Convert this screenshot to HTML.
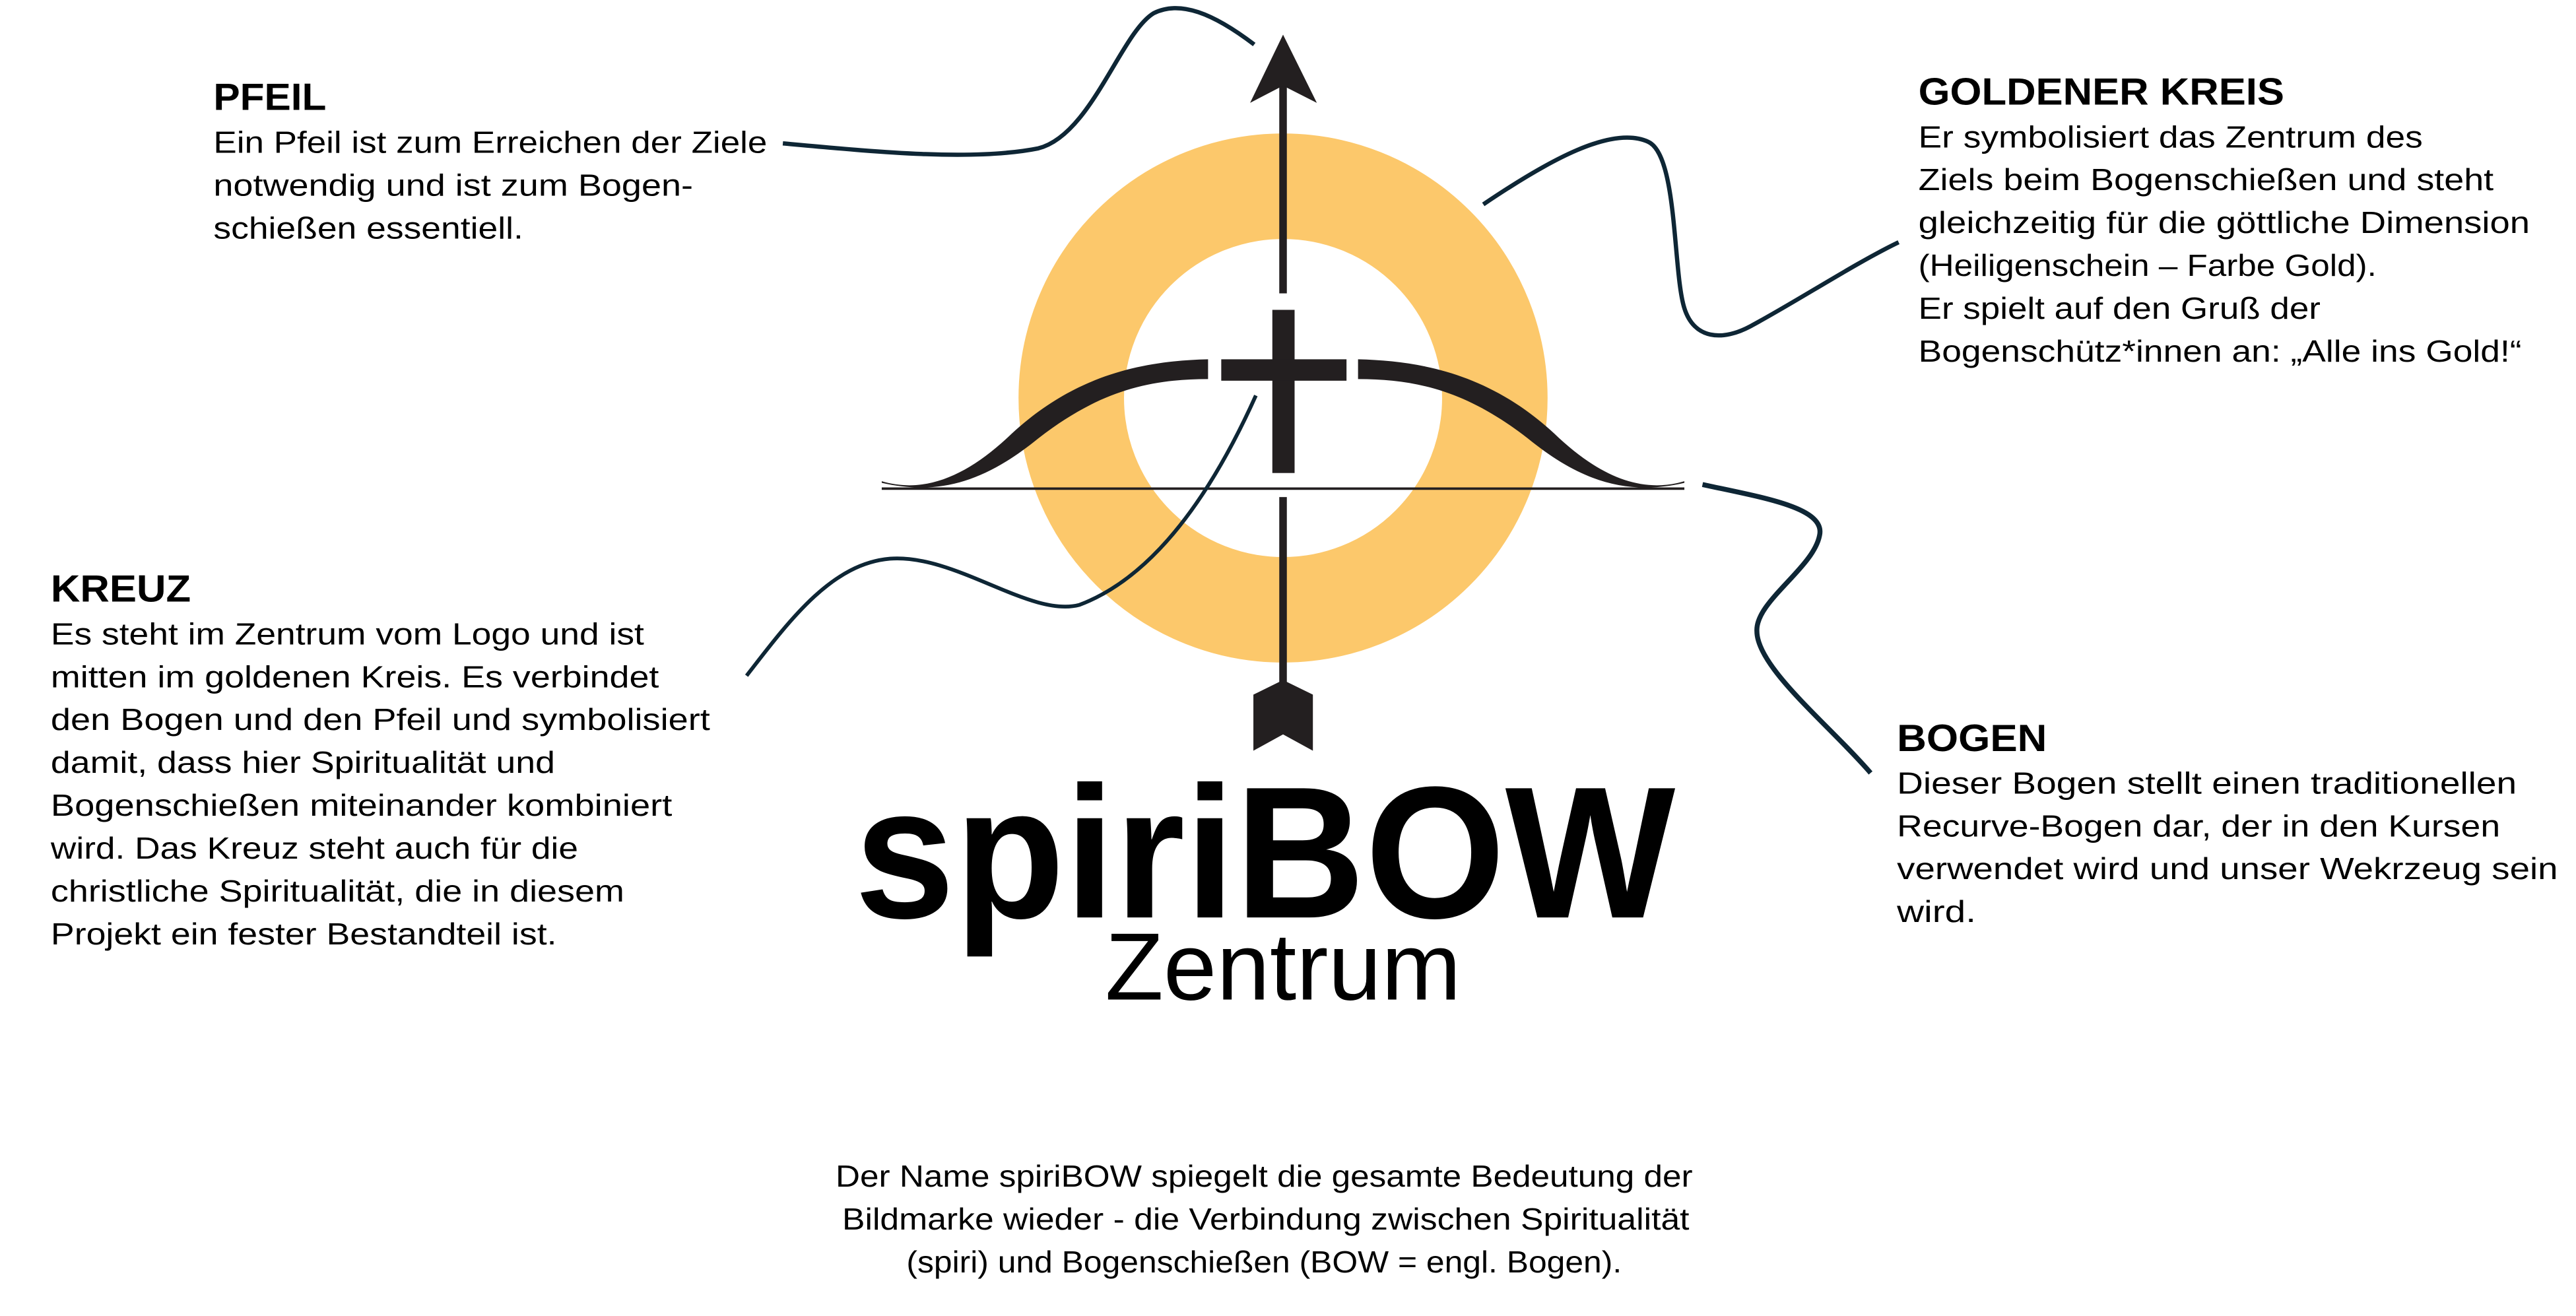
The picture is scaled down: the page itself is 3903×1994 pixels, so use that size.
<!DOCTYPE html>
<html><head><meta charset="utf-8"><style>
html,body{margin:0;padding:0;background:#fff;}
svg{display:block;}
text{font-family:"Liberation Sans",sans-serif;fill:#000;}
.h{font-weight:bold;font-size:23px;}
.b{font-size:18.5px;}
</style></head><body>
<svg width="3903" height="1994" viewBox="0 0 1563 798.5" xmlns="http://www.w3.org/2000/svg">
<rect width="1563" height="798.5" fill="#fff"/>
<circle cx="778.5" cy="241.5" r="128.5" fill="none" stroke="#fcc86b" stroke-width="64"/>
<line x1="535" y1="296.5" x2="1022" y2="296.5" stroke="#231f20" stroke-width="1.5"/>
<g fill="#231f20">
<path id="limb" d="M535,292 C562,300 588,288 614,263 C652,228 692,219 733,218 L733,230 C696,230 666,238 630,266 C598,292 570,301 535,293 Z"/>
<use href="#limb" transform="translate(1557,0) scale(-1,1)"/>
</g>
<rect x="776.2" y="50" width="4.6" height="128" fill="#231f20"/>
<rect x="776.2" y="301.6" width="4.6" height="113" fill="#231f20"/>
<polygon points="778.5,21 799,62.4 778.5,52 758.5,62.4" fill="#231f20"/>
<polygon points="778.5,412.6 796.6,421.5 796.6,455.5 778.5,445.6 760.5,455.5 760.5,421.5" fill="#231f20"/>
<rect x="772" y="188" width="13.5" height="99" fill="#231f20"/>
<rect x="741" y="218" width="76" height="13" fill="#231f20"/>
<g fill="none" stroke="#0e2635" stroke-width="2.6" stroke-linecap="butt">
<path d="M475,87 C530,92 590,98 630,90 C662,82 680,20 700,8 C716,0 736,8 761,27"/>
<path d="M900,124 C940,97 978,76 1000,86 C1018,94 1015,165 1022,187 C1028,206 1045,207 1062,198 C1090,183 1125,160 1152,147"/>
<path stroke-width="2.3" d="M453,410 C480,375 505,342 540,339 C580,336 625,375 655,367 C700,350 735,300 762,240"/>
<path stroke-width="3" d="M1033,294 C1070,302 1108,308 1104,325 C1100,345 1065,365 1066,383 C1066,405 1110,440 1135,469"/>
</g>
<text x="518.5" y="556.7" font-size="114" font-weight="bold" textLength="498" lengthAdjust="spacingAndGlyphs">spiriBOW</text>
<text x="670.5" y="606.5" font-size="58" textLength="216" lengthAdjust="spacingAndGlyphs">Zentrum</text>
<text class="h" x="129.5" y="66.7" textLength="68.5" lengthAdjust="spacingAndGlyphs">PFEIL</text>
<text class="b" x="129.5" y="92.8" textLength="336" lengthAdjust="spacingAndGlyphs">Ein Pfeil ist zum Erreichen der Ziele</text>
<text class="b" x="129.5" y="118.8" textLength="291" lengthAdjust="spacingAndGlyphs">notwendig und ist zum Bogen-</text>
<text class="b" x="129.5" y="144.8" textLength="188" lengthAdjust="spacingAndGlyphs">schießen essentiell.</text>
<text class="h" x="1164" y="63.4" textLength="222" lengthAdjust="spacingAndGlyphs">GOLDENER KREIS</text>
<text class="b" x="1164" y="89.4" textLength="306" lengthAdjust="spacingAndGlyphs">Er symbolisiert das Zentrum des</text>
<text class="b" x="1164" y="115.4" textLength="349" lengthAdjust="spacingAndGlyphs">Ziels beim Bogenschießen und steht</text>
<text class="b" x="1164" y="141.4" textLength="371" lengthAdjust="spacingAndGlyphs">gleichzeitig für die göttliche Dimension</text>
<text class="b" x="1164" y="167.4" textLength="278" lengthAdjust="spacingAndGlyphs">(Heiligenschein – Farbe Gold).</text>
<text class="b" x="1164" y="193.4" textLength="244" lengthAdjust="spacingAndGlyphs">Er spielt auf den Gruß der</text>
<text class="b" x="1164" y="219.4" textLength="366" lengthAdjust="spacingAndGlyphs">Bogenschütz*innen an: „Alle ins Gold!“</text>
<text class="h" x="30.8" y="365" textLength="85" lengthAdjust="spacingAndGlyphs">KREUZ</text>
<text class="b" x="30.8" y="391" textLength="360" lengthAdjust="spacingAndGlyphs">Es steht im Zentrum vom Logo und ist</text>
<text class="b" x="30.8" y="417" textLength="369" lengthAdjust="spacingAndGlyphs">mitten im goldenen Kreis. Es verbindet</text>
<text class="b" x="30.8" y="443" textLength="400" lengthAdjust="spacingAndGlyphs">den Bogen und den Pfeil und symbolisiert</text>
<text class="b" x="30.8" y="469" textLength="306" lengthAdjust="spacingAndGlyphs">damit, dass hier Spiritualität und</text>
<text class="b" x="30.8" y="495" textLength="377" lengthAdjust="spacingAndGlyphs">Bogenschießen miteinander kombiniert</text>
<text class="b" x="30.8" y="521" textLength="320" lengthAdjust="spacingAndGlyphs">wird. Das Kreuz steht auch für die</text>
<text class="b" x="30.8" y="547" textLength="348" lengthAdjust="spacingAndGlyphs">christliche Spiritualität, die in diesem</text>
<text class="b" x="30.8" y="573" textLength="307" lengthAdjust="spacingAndGlyphs">Projekt ein fester Bestandteil ist.</text>
<text class="h" x="1151" y="455.7" textLength="91" lengthAdjust="spacingAndGlyphs">BOGEN</text>
<text class="b" x="1151" y="481.5" textLength="376" lengthAdjust="spacingAndGlyphs">Dieser Bogen stellt einen traditionellen</text>
<text class="b" x="1151" y="507.5" textLength="366" lengthAdjust="spacingAndGlyphs">Recurve-Bogen dar, der in den Kursen</text>
<text class="b" x="1151" y="533.5" textLength="401" lengthAdjust="spacingAndGlyphs">verwendet wird und unser Wekrzeug sein</text>
<text class="b" x="1151" y="559.5" textLength="48" lengthAdjust="spacingAndGlyphs">wird.</text>
<text class="b" x="507" y="720" textLength="520" lengthAdjust="spacingAndGlyphs">Der Name spiriBOW spiegelt die gesamte Bedeutung der</text>
<text class="b" x="511" y="746" textLength="514" lengthAdjust="spacingAndGlyphs">Bildmarke wieder - die Verbindung zwischen Spiritualität</text>
<text class="b" x="550" y="772" textLength="434" lengthAdjust="spacingAndGlyphs">(spiri) und Bogenschießen (BOW = engl. Bogen).</text>
</svg>
</body></html>
